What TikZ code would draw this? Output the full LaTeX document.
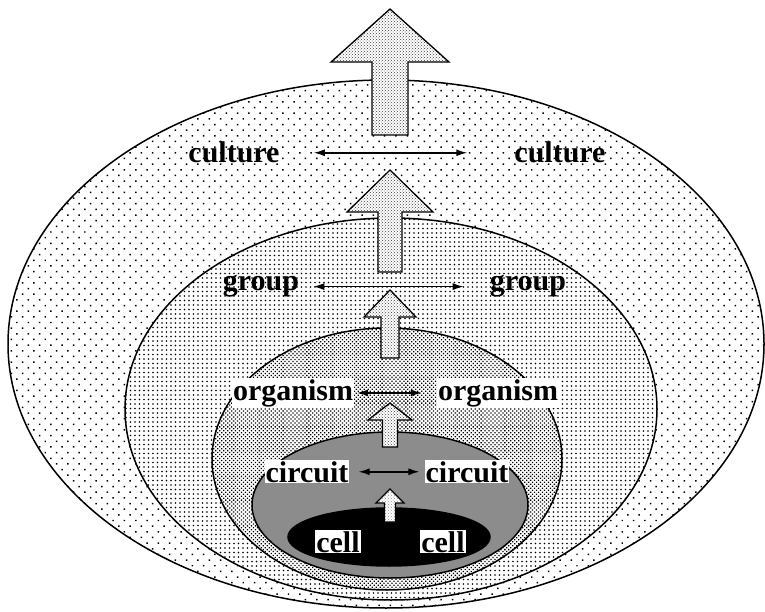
\documentclass[tikz,border=0pt]{standalone}
\usepackage{fontspec}
\setmainfont{Liberation Serif}
\usetikzlibrary{shapes.geometric,patterns,patterns.meta,arrows.meta}

\begin{document}
\begin{tikzpicture}[x=1pt,y=1pt,
    ring/.style={draw,ellipse,inner sep=0pt,line width=1.5pt,preaction={fill=white}},
    blockarr/.style={draw,line width=1.3pt,preaction={fill=white},pattern=crosshatch dots,pattern color=black!75},
    lvl/.style={font=\bfseries\fontsize{30}{32}\selectfont,inner sep=1pt,anchor=base},
    boxed/.style={lvl,fill=white},
    dbl/.style={{Latex[length=11pt,width=7pt]}-{Latex[length=11pt,width=7pt]},line width=1.5pt}]
        \useasboundingbox (0,0) rectangle (765,611);
        \node[ring,minimum width=756pt,minimum height=528pt,pattern={Dots[distance=8pt,angle=45,radius=1.05pt]}] (culture) at (386,267) {};
        \node[ring,minimum width=532pt,minimum height=382pt,pattern={Dots[distance=4.5pt,radius=0.95pt]}] (group) at (391,202) {};
        \node[ring,minimum width=350pt,minimum height=262pt,pattern={Dots[distance=2.8pt,angle=45,radius=0.9pt]}] (organism) at (387,152) {};
        \node[ring,minimum width=276pt,minimum height=146pt,fill=black!45] (circuit) at (390,106) {};
        \node[ring,minimum width=202pt,minimum height=58pt,fill=black] (cell) at (389,74) {};
        \draw[blockarr] (390,602) -- ++(59,-53) -- ++(-41,0) -- ++(0,-73) -- ++(-36,0) -- ++(0,73) -- ++(-41,0) -- cycle;
        \draw[blockarr] (390,441) -- ++(43,-42) -- ++(-31,0) -- ++(0,-60) -- ++(-24,0) -- ++(0,60) -- ++(-31,0) -- cycle;
        \draw[blockarr] (390,321) -- ++(26,-27) -- ++(-17,0) -- ++(0,-41) -- ++(-18,0) -- ++(0,41) -- ++(-17,0) -- cycle;
        \draw[blockarr] (390,208) -- ++(22,-17) -- ++(-14.5,0) -- ++(0,-27) -- ++(-15,0) -- ++(0,27) -- ++(-14.5,0) -- cycle;
        \draw[blockarr,pattern color=black!45] (390,122) -- ++(14,-14) -- ++(-8.5,0) -- ++(0,-19) -- ++(-11,0) -- ++(0,19) -- ++(-8.5,0) -- cycle;
        \node[lvl] (cultL) at (234,448) {culture};
        \node[lvl] (cultR) at (560,448) {culture};
        \node[lvl] (grpL) at (261,320) {group};
        \node[lvl] (grpR) at (528,320) {group};
        \node[boxed] (orgL) at (293,211) {organism};
        \node[boxed] (orgR) at (498,211) {organism};
        \node[boxed] (circL) at (307,129) {circuit};
        \node[boxed] (circR) at (467,129) {circuit};
        \node[boxed] (cellL) at (338,59) {cell};
        \node[boxed] (cellR) at (443,59) {cell};
        \draw[dbl,shorten <=33pt,shorten >=46pt] (cultL) -- (cultR);
        \draw[dbl,shorten <=13pt,shorten >=25pt] (grpL) -- (grpR);
        \draw[dbl,shorten <=3pt,shorten >=15pt] (orgL) -- (orgR);
        \draw[dbl,shorten <=9pt,shorten >=5pt] (circL) -- (circR);
    \end{tikzpicture}
\end{document}
